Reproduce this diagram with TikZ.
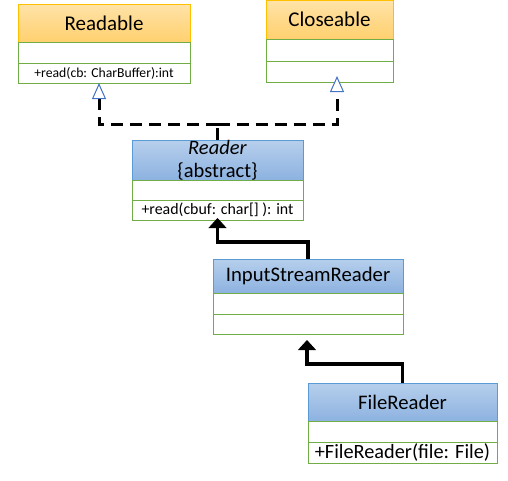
\documentclass[tikz,border=0pt]{standalone}
\usepackage{fontspec}
\setmainfont{Carlito}
\usetikzlibrary{arrows.meta,calc}
\definecolor{orBorder}{HTML}{FFC000}
\definecolor{orTop}{HTML}{FFE3A8}
\definecolor{orBot}{HTML}{FFD06E}
\definecolor{blBorder}{HTML}{5B9BD5}
\definecolor{blTop}{HTML}{B6CFEC}
\definecolor{blBot}{HTML}{8DB2E0}
\definecolor{grBorder}{HTML}{70AD47}
\definecolor{arBlue}{HTML}{4472C4}
\begin{document}
\begin{tikzpicture}[x=1pt,y=-1pt,
  box/.style={rectangle,anchor=north west,inner sep=0pt,outer sep=0pt,line width=1pt},
  ohead/.style={box,draw=orBorder,top color=orTop,bottom color=orBot,font=\fontsize{21}{24}\selectfont},
  bhead/.style={box,draw=blBorder,top color=blTop,bottom color=blBot,font=\fontsize{20.7}{24}\selectfont},
  row/.style={box,draw=grBorder,fill=white},
  dashline/.style={line width=3pt,dash pattern=on 12pt off 7pt},
  solidline/.style={line width=3.5pt},
  realize/.style={-{Triangle[open,length=16pt,width=14pt,line width=1pt,color=arBlue,fill=white]}},
  inherit/.style={-{Triangle[length=10pt,width=18pt,line width=0.8pt,color=black,fill=black]}}
]
\useasboundingbox (0,0) rectangle (508,480);
% Readable
\node[ohead,minimum width=172pt,minimum height=38pt] (rdH) at (18,4) {Readable};
\node[row,minimum width=172pt,minimum height=21pt] (rdA) at (18,42) {};
\node[row,minimum width=172pt,minimum height=20pt,font=\fontsize{13.7}{15}\selectfont] (rdM) at (18,63) {+read(cb: CharBuffer):int};
% Closeable
\node[ohead,minimum width=127pt,minimum height=39pt] (clH) at (266,0) {Closeable};
\node[row,minimum width=127pt,minimum height=22pt] (clA) at (266,39) {};
\node[row,minimum width=127pt,minimum height=21pt] (clM) at (266,61) {};
% Reader
\node[bhead,minimum width=171pt,minimum height=40pt,align=center,font=\fontsize{20.5}{23}\selectfont] (reH) at (132,140) {\textit{Reader}\\\{abstract\}};
\node[row,minimum width=171pt,minimum height=20pt] (reA) at (132,180) {};
\node[row,minimum width=171pt,minimum height=20pt,font=\fontsize{15.9}{17}\selectfont] (reM) at (132,200) {+read(cbuf: char[] ): int};
% InputStreamReader
\node[bhead,minimum width=190pt,minimum height=34pt] (isH) at (213,259) {InputStreamReader};
\node[row,minimum width=190pt,minimum height=21pt] (isA) at (213,293) {};
\node[row,minimum width=190pt,minimum height=20pt] (isM) at (213,314) {};
% FileReader
\node[bhead,minimum width=189pt,minimum height=38pt] (frH) at (308,383) {FileReader};
\node[row,minimum width=189pt,minimum height=21pt] (frA) at (308,421) {};
\node[row,minimum width=189pt,minimum height=21pt,font=\fontsize{20.3}{22}\selectfont] (frM) at (308,442) {+FileReader(file: File)};
% connectors
\coordinate (j1) at ($(reH.north)+(0,16pt)$);
\draw[dashline] (reH.north) -- (j1);
\draw[dashline,realize] (j1) -| ([xshift=-5pt]rdM.south);
\draw[dashline,realize] (j1) -| ([xshift=7.5pt,yshift=6pt]clM.south);
\draw[solidline,inherit] (isH.north) -- ++(0,17pt) -| ([yshift=2pt]reM.south);
\draw[solidline,inherit] (frH.north) -- ++(0,19pt) -| ([xshift=-1pt,yshift=-6pt]isM.south);
\end{tikzpicture}
\end{document}
